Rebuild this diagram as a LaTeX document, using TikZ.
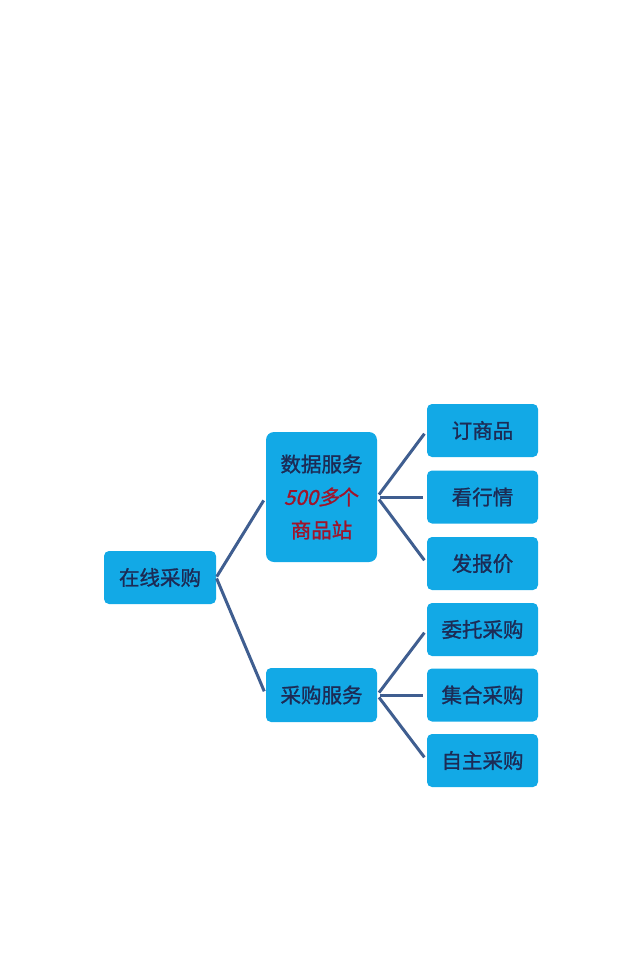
\documentclass[tikz,border=0pt]{standalone}
\usepackage{fontspec}
\setmainfont{Noto Sans CJK SC}[FakeBold=1.2]
\newfontfamily\slantfont{Noto Sans CJK SC}[FakeSlant=0.25, FakeBold=1.2]
\definecolor{boxblue}{HTML}{12A9E6}
\definecolor{textnavy}{HTML}{1C2B55}
\definecolor{linkblue}{HTML}{3F5E90}
\definecolor{redtext}{HTML}{A0142A}
\begin{document}
\begin{tikzpicture}[x=1pt,y=-1pt,
  box/.style={fill=boxblue, rounded corners=5pt, minimum width=111pt, minimum height=53pt,
    inner sep=0pt, font=\fontsize{20.5}{24}\selectfont, text=textnavy},
  link/.style={draw=linkblue, line width=3pt, shorten <=1pt, shorten >=4pt}]
\useasboundingbox (0,0) rectangle (640,970);
\node[box, minimum width=112pt] (root) at (160,577.5) {在线采购};
\node[box, minimum height=130pt, rounded corners=8pt, align=center,
  font=\fontsize{20.5}{33}\selectfont] (data) at (321.5,497)
  {数据服务\\\textcolor{redtext}{{\slantfont 500多}个}\\\textcolor{redtext}{商品站}};
\node[box, minimum height=54pt] (buy) at (321.5,695) {采购服务};
\node[box] (l1) at (482.5,430.5) {订商品};
\node[box] (l2) at (482.5,497) {看行情};
\node[box] (l3) at (482.5,563.5) {发报价};
\node[box] (l4) at (482.5,629.5) {委托采购};
\node[box] (l5) at (482.5,695) {集合采购};
\node[box] (l6) at (482.5,760.5) {自主采购};
\draw[link] (root.east) -- (data.west);
\draw[link] (root.east) -- (buy.west);
\foreach \n in {l1,l2,l3} \draw[link, shorten <=3pt] (data.east) -- (\n.west);
\foreach \n in {l4,l5,l6} \draw[link, shorten <=3pt] (buy.east) -- (\n.west);
\end{tikzpicture}
\end{document}
